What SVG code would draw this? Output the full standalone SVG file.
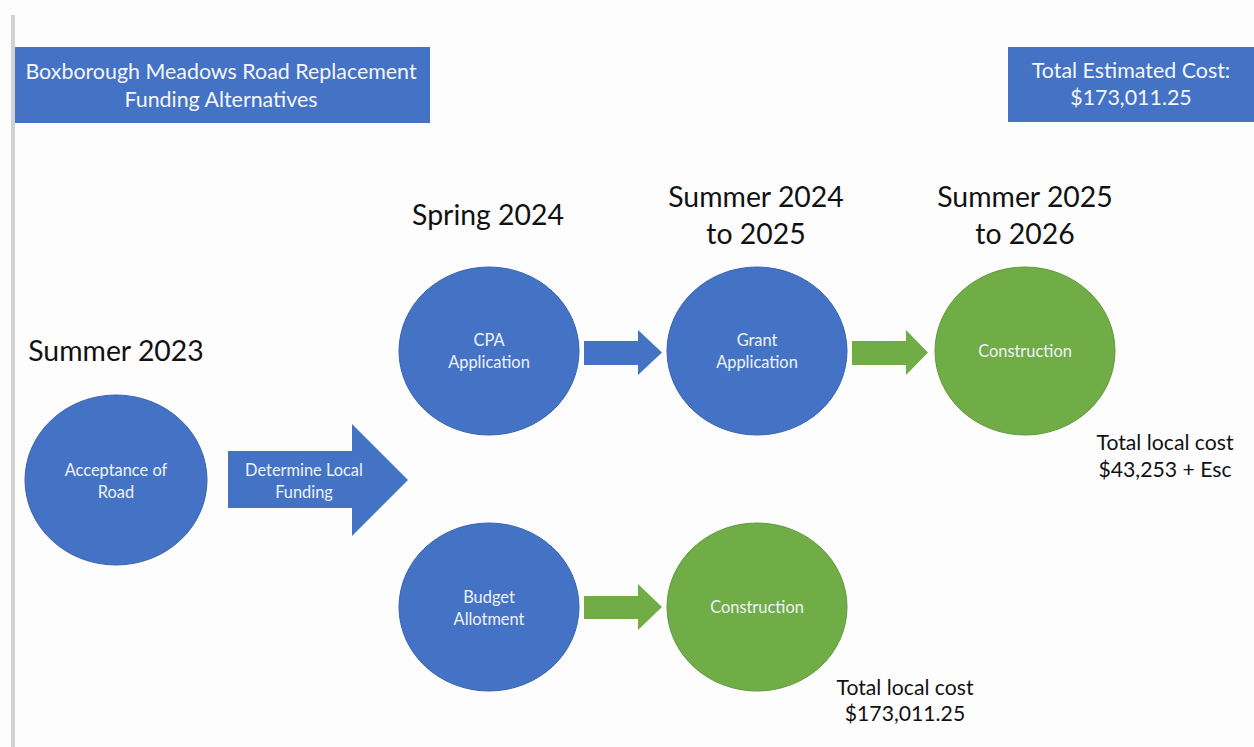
<svg xmlns="http://www.w3.org/2000/svg" width="1254" height="747" viewBox="0 0 1254 747">
<style>
.bg{fill:#fdfdfe}
.box{fill:#4472C4}
.blue{fill:#4472C4;stroke:#3A64B0;stroke-width:1}
.green{fill:#70AD47;stroke:#62993D;stroke-width:1}
.arrB{fill:#4472C4}
.arrG{fill:#70AD47}
.t{font-family:Lato,"Open Sans","Liberation Sans",sans-serif;text-anchor:middle}
.hdr{font-size:21.4px;fill:#f4f6fb}
.in{font-size:16.4px;fill:#eef2fa}
.sea{font-size:28.4px;fill:#111}
.cost{font-size:21.2px;fill:#111}
</style>
<rect class="bg" x="0" y="0" width="1254" height="747"/>
<rect x="11" y="15" width="4" height="732" fill="#d2d2d2"/>
<g id="title">
<rect class="box" x="15" y="47" width="415" height="76"/>
<text class="t hdr" x="221" y="79">Boxborough Meadows Road Replacement</text>
<text class="t hdr" x="221" y="107">Funding Alternatives</text>
</g>
<g id="total">
<rect class="box" x="1008" y="47" width="246" height="75"/>
<text class="t hdr" x="1131" y="78">Total Estimated Cost:</text>
<text class="t hdr" x="1131" y="105">$173,011.25</text>
</g>
<g id="seasons">
<text class="t sea" x="116" y="361">Summer 2023</text>
<text class="t sea" x="488" y="225">Spring 2024</text>
<text class="t sea" x="756" y="207">Summer 2024</text>
<text class="t sea" x="756" y="244">to 2025</text>
<text class="t sea" x="1025" y="207">Summer 2025</text>
<text class="t sea" x="1025" y="244">to 2026</text>
</g>
<g id="connectors">
<path class="arrB" d="M228,451 H352 V424 L408,480 L352,536 V508 H228 Z"/>
<path class="arrB" d="M584,341 H638 V330 L662,352.5 L638,375 V365 H584 Z"/>
<path class="arrG" d="M852,341 H906 V330 L928,352.5 L906,375 V365 H852 Z"/>
<path class="arrG" d="M584,596 H638 V584 L662,607 L638,630 V619 H584 Z"/>
<text class="t in" x="304" y="476">Determine Local</text>
<text class="t in" x="304" y="498">Funding</text>
</g>
<g id="acceptance">
<ellipse class="blue" cx="116" cy="480" rx="91" ry="85"/>
<text class="t in" x="116" y="476">Acceptance of</text>
<text class="t in" x="116" y="498">Road</text>
</g>
<g id="cpa">
<ellipse class="blue" cx="489" cy="351" rx="90" ry="84"/>
<text class="t in" x="489" y="346">CPA</text>
<text class="t in" x="489" y="368">Application</text>
</g>
<g id="grant">
<ellipse class="blue" cx="757" cy="351" rx="90" ry="84"/>
<text class="t in" x="757" y="346">Grant</text>
<text class="t in" x="757" y="368">Application</text>
</g>
<g id="construction1">
<ellipse class="green" cx="1025" cy="351" rx="90" ry="84"/>
<text class="t in" x="1025" y="357">Construction</text>
</g>
<g id="budget">
<ellipse class="blue" cx="489" cy="607" rx="90" ry="84"/>
<text class="t in" x="489" y="603">Budget</text>
<text class="t in" x="489" y="625">Allotment</text>
</g>
<g id="construction2">
<ellipse class="green" cx="757" cy="607" rx="90" ry="84"/>
<text class="t in" x="757" y="613">Construction</text>
</g>
<g id="costs">
<text class="t cost" x="1165" y="450">Total local cost</text>
<text class="t cost" x="1165" y="477">$43,253 + Esc</text>
<text class="t cost" x="905" y="695">Total local cost</text>
<text class="t cost" x="905" y="721">$173,011.25</text>
</g>
</svg>
